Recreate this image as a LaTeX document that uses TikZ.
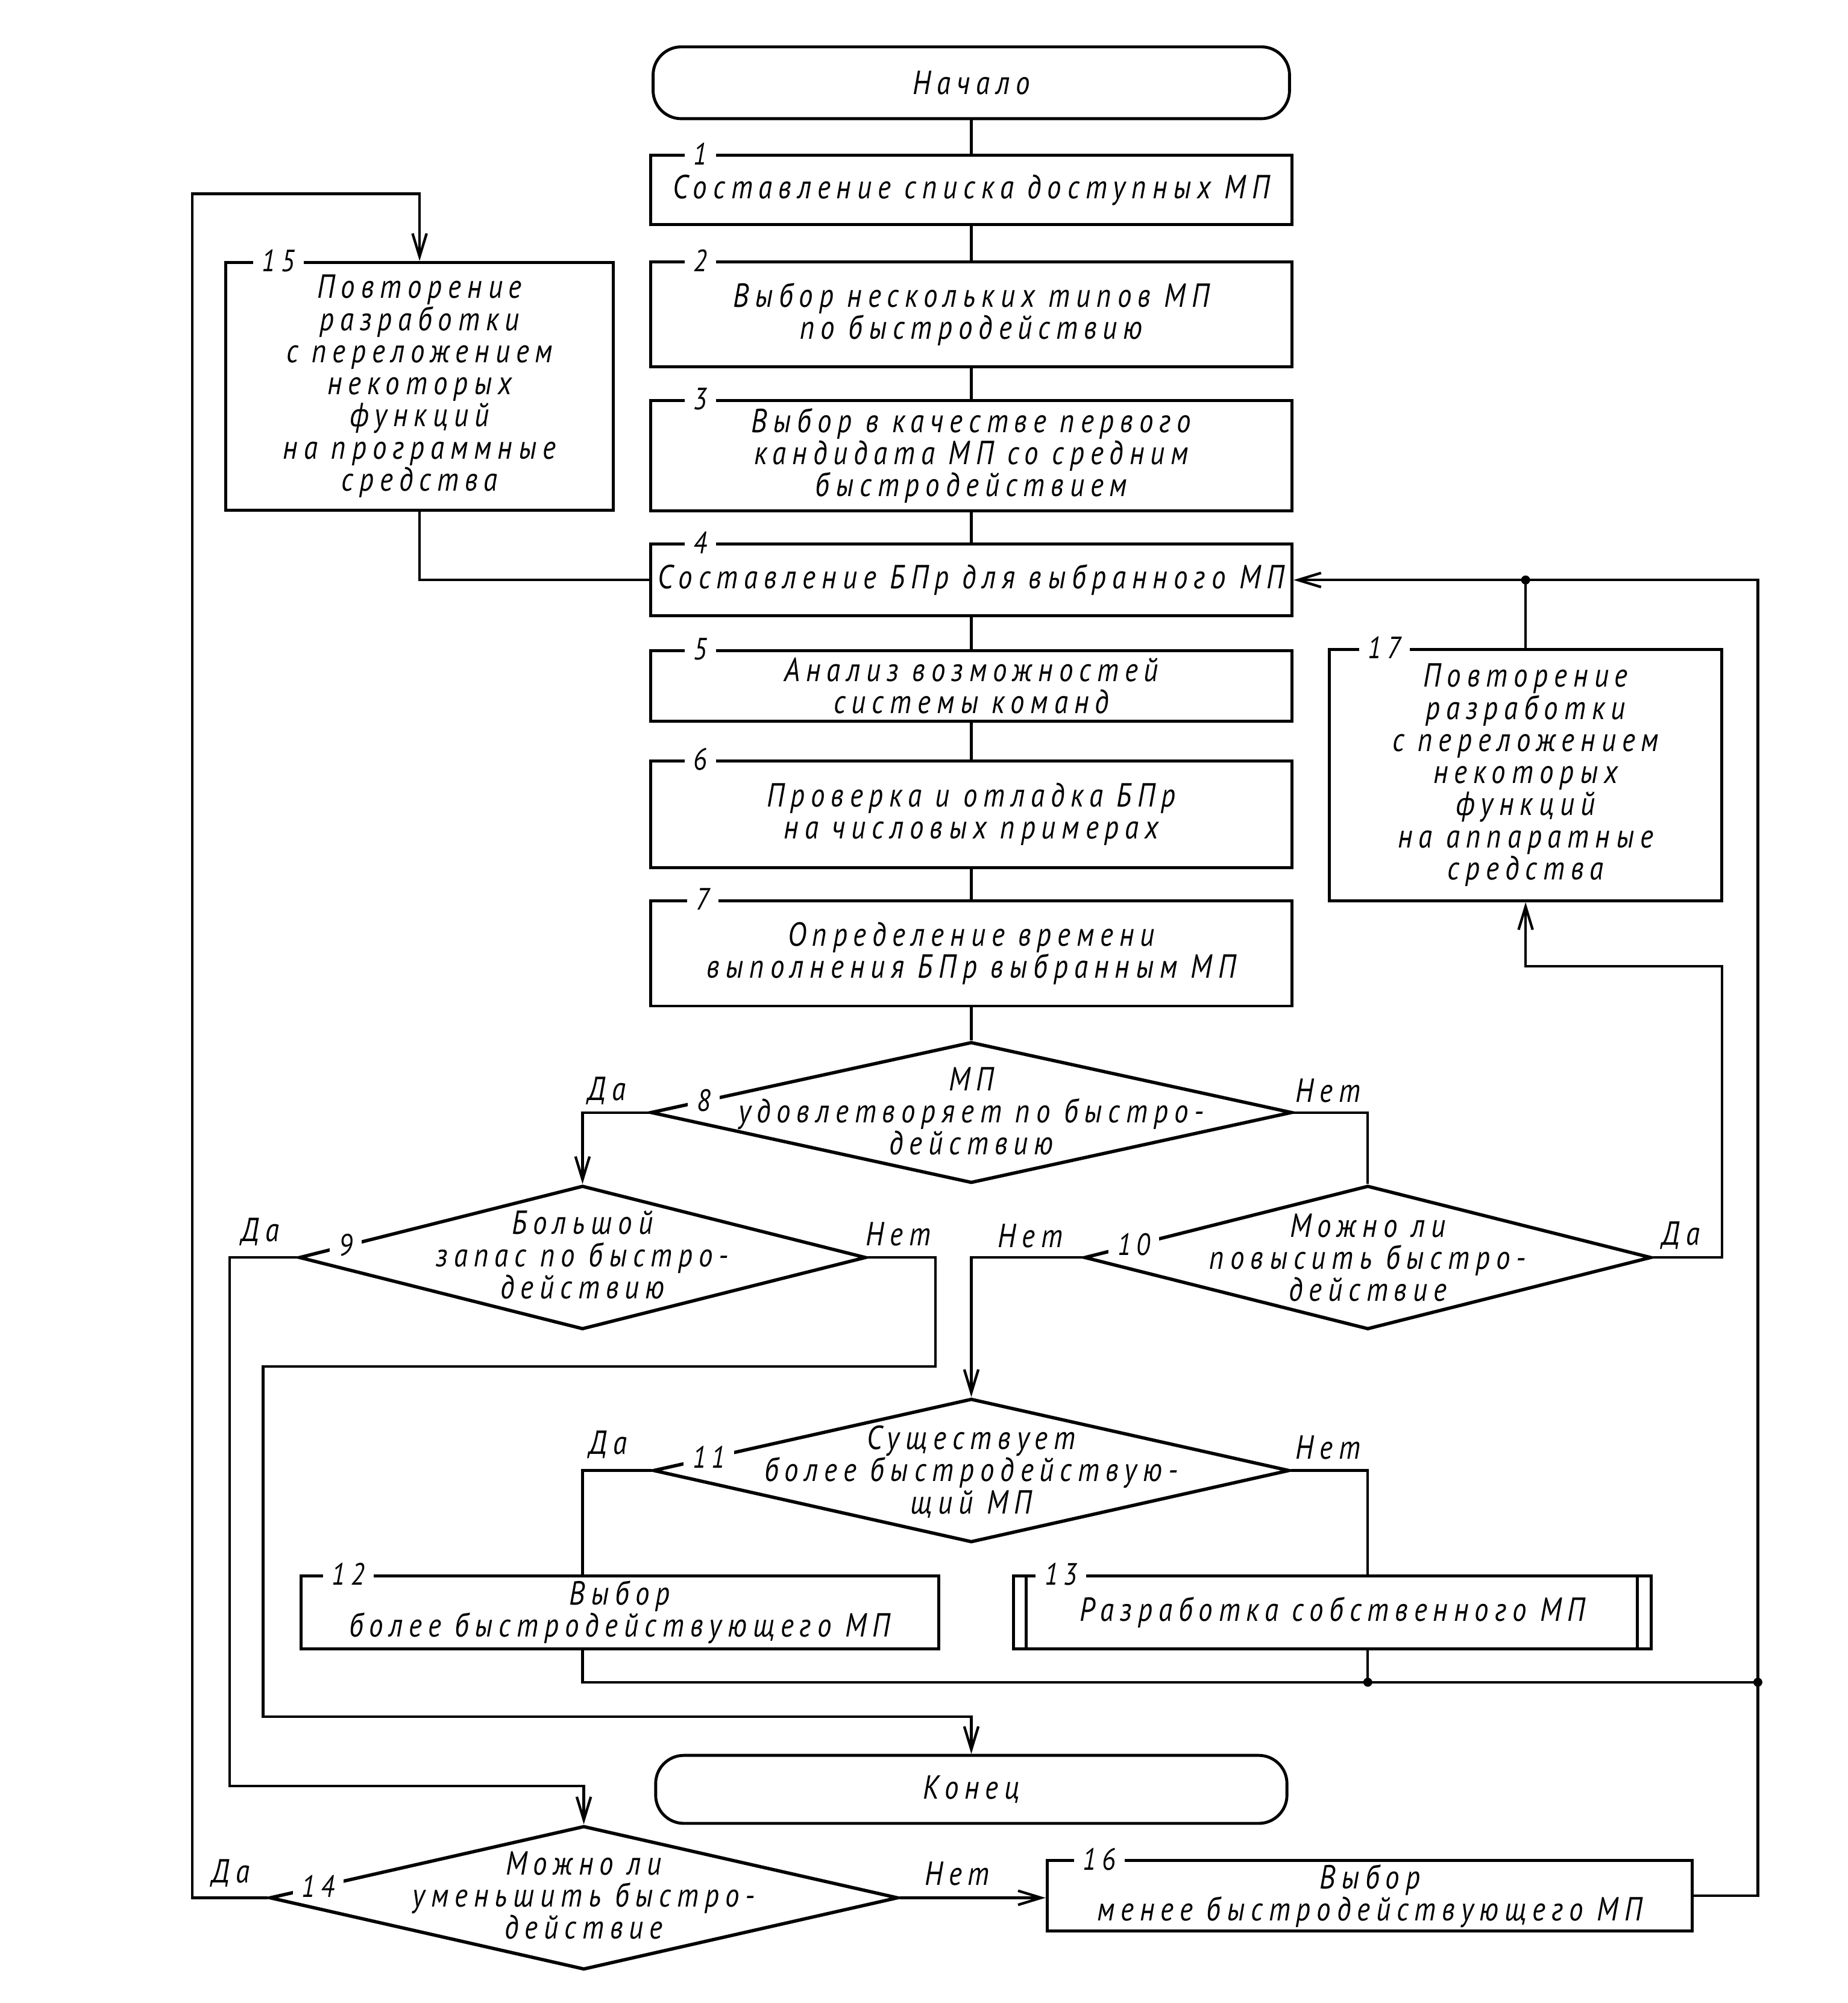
\documentclass[tikz,border=0pt]{standalone}
\usepackage{fontspec}
\setmainfont{PT Sans}[FakeStretch=0.85,LetterSpace=18]
\usetikzlibrary{shapes.geometric,arrows.meta,calc}
\begin{document}
\begin{tikzpicture}[x=1pt,y=-1pt,
  txt/.style={font=\fontsize{26}{25}\selectfont\itshape, align=center},
  blk/.style 2 args={draw, line width=2.3pt, minimum width=#1, minimum height=#2, inner sep=1pt, txt},
  term/.style 2 args={blk={#1}{#2}, rounded corners=22pt},
  dia/.style 2 args={diamond, draw, line width=2.6pt, minimum width=#1, minimum height=#2, inner sep=0pt},
  ln/.style={line width=2pt},
  arr/.style={ln, -{Straight Barb[length=18pt,width=11pt]}},
  num/.style={fill=white, inner xsep=7pt, inner ysep=1pt, font=\fontsize{24}{24}\selectfont\itshape},
  yn/.style={font=\fontsize{26}{26}\selectfont\itshape, inner sep=0pt},
  dot/.style={circle, fill, inner sep=0pt, minimum size=7pt},
]
\path[fill=white,use as bounding box] (0,0) rectangle (1440,1561);

% main column
\node[term={496}{56}] (start) at (757,64.5) {Начало};
\node[blk={500}{54}] (b1) at (757,148) {Составление списка доступных МП};
\node[blk={500}{82}] (b2) at (757,245) {Выбор нескольких типов МП\\по быстродействию};
\node[blk={500}{86}] (b3) at (757,355) {Выбор в качестве первого\\кандидата МП со средним\\быстродействием};
\node[blk={500}{56}] (b4) at (757,452) {Составление БПр для выбранного МП};
\node[blk={500}{55}] (b5) at (757,534.5) {Анализ возможностей\\системы команд};
\node[blk={500}{83}] (b6) at (757,634.5) {Проверка и отладка БПр\\на числовых примерах};
\node[blk={500}{82}] (b7) at (757,743) {Определение времени\\выполнения БПр выбранным МП};

% decisions
\node[dia={500}{110}] (d8) at (757,867) {};
\node[txt] (t8) at (757,866) {МП\\удовлетворяет по быстро-\\действию};
\node[dia={442}{112}] (d9) at (454,980) {};
\node[txt] (t9) at (454,978) {Большой\\запас по быстро-\\действию};
\node[dia={442}{112}] (d10) at (1066,980) {};
\node[txt] (t10) at (1066,980) {Можно ли\\повысить быстро-\\действие};
\node[dia={496}{112}] (d11) at (757,1146) {};
\node[txt] (t11) at (757,1147) {Существует\\более быстродействую-\\щий МП};

\node[blk={497}{57}] (b12) at (483,1256.5) {Выбор\\более быстродействующего МП};
\node[blk={497}{57}] (b13) at (1038.5,1256.5) {Разработка собственного МП};
\draw[line width=2.3pt] ([xshift=11pt]b13.north west) -- ([xshift=11pt]b13.south west);
\draw[line width=2.3pt] ([xshift=-12pt]b13.north east) -- ([xshift=-12pt]b13.south east);

\node[term={492}{53}] (end) at (757,1394.5) {Конец};
\node[dia={490}{112}] (d14) at (455,1479) {};
\node[txt] (t14) at (455,1477) {Можно ли\\уменьшить быстро-\\действие};
\node[blk={503}{55}] (b16) at (1067.5,1477.5) {Выбор\\менее быстродействующего МП};

\node[blk={302}{193}] (b15) at (327,301) {Повторение\\разработки\\с переложением\\некоторых\\функций\\на программные\\средства};
\node[blk={306}{196}] (b17) at (1189,604) {Повторение\\разработки\\с переложением\\некоторых\\функций\\на аппаратные\\средства};

% bend points
\coordinate (lt) at (150,151);
\coordinate (p1) at (179,1392);
\coordinate (q1) at (729,1065);
\coordinate (q2) at (205,1338);
\coordinate (r1) at (1342,753);
\coordinate (rb) at (1370,1311);

% main flow
\draw[ln] (start) -- (b1);
\draw[ln] (b1) -- (b2);
\draw[ln] (b2) -- (b3);
\draw[ln] (b3) -- (b4);
\draw[ln] (b4) -- (b5);
\draw[ln] (b5) -- (b6);
\draw[ln] (b6) -- (b7);
\draw[ln] (b7) -- (d8);

\draw[arr] (d8.west) -| (d9.north);
\draw[ln] (d8.east) -| (d10.north);
\draw[arr] (d9.west) -| (p1) -| (d14.north);
\draw[arr] (d9.east) -| (q1) -| (q2) -| (end.north);
\draw[arr] (d10.west) -| (d11.north);
\draw[arr] (d10.east) -| (r1) -| (b17.south);
\draw[ln] (d11.west) -| (d9 |- b12.north);
\draw[ln] (d11.east) -| (d10 |- b13.north);
\draw[ln] (d9 |- b12.south) |- (rb);
\draw[ln] (d10 |- b13.south) -- (d10 |- rb);
\draw[arr] (b16.east) -| (rb |- b4.east) -- (b4.east);
\draw[ln] (b17.north) -- (b17.north |- b4.east);
\draw[arr] (d14.west) -| (lt) -| (b15.north);
\draw[ln] (b15.south) |- (b4.west);
\draw[arr] (d14.east) -- (d14.east -| b16.west);

\node[dot] (j1) at (b17.north |- b4.east) {};
\node[dot] (j2) at (d10 |- rb) {};
\node[dot] (j3) at (rb) {};

% numbers
\node[num] (n1) at ([xshift=40pt]b1.north west) {1};
\node[num] (n2) at ([xshift=40pt]b2.north west) {2};
\node[num] (n3) at ([xshift=40pt]b3.north west) {3};
\node[num] (n4) at ([xshift=40pt]b4.north west) {4};
\node[num] (n5) at ([xshift=40pt]b5.north west) {5};
\node[num] (n6) at ([xshift=40pt]b6.north west) {6};
\node[num] (n7) at ([xshift=42pt]b7.north west) {7};
\node[num] (n12) at ([xshift=38pt]b12.north west) {12};
\node[num] (n13) at ([xshift=38pt]b13.north west) {13};
\node[num] (n15) at ([xshift=42pt]b15.north west) {15};
\node[num] (n16) at ([xshift=42pt]b16.north west) {16};
\node[num] (n17) at ([xshift=44pt]b17.north west) {17};
\node[num] (n8) at ($(d8.west)!0.17!(d8.north)$) {8};
\node[num] (n9) at ($(d9.west)!0.17!(d9.north)$) {9};
\node[num] (n10) at ($(d10.west)!0.18!(d10.north)$) {10};
\node[num] (n11) at ($(d11.west)!0.18!(d11.north)$) {11};
\node[num] (n14) at ($(d14.west)!0.16!(d14.north)$) {14};

% yes / no
\node[yn] (y8) at (473,850) {Да};
\node[yn] (x8) at (1035,850) {Нет};
\node[yn] (y9) at (203,960) {Да};
\node[yn] (x9) at (700,962) {Нет};
\node[yn] (x10) at (803,963) {Нет};
\node[yn] (y10) at (1310,963) {Да};
\node[yn] (y11) at (474,1126) {Да};
\node[yn] (x11) at (1035,1128) {Нет};
\node[yn] (y14) at (180,1460) {Да};
\node[yn] (x14) at (746,1460) {Нет};
\end{tikzpicture}
\end{document}
